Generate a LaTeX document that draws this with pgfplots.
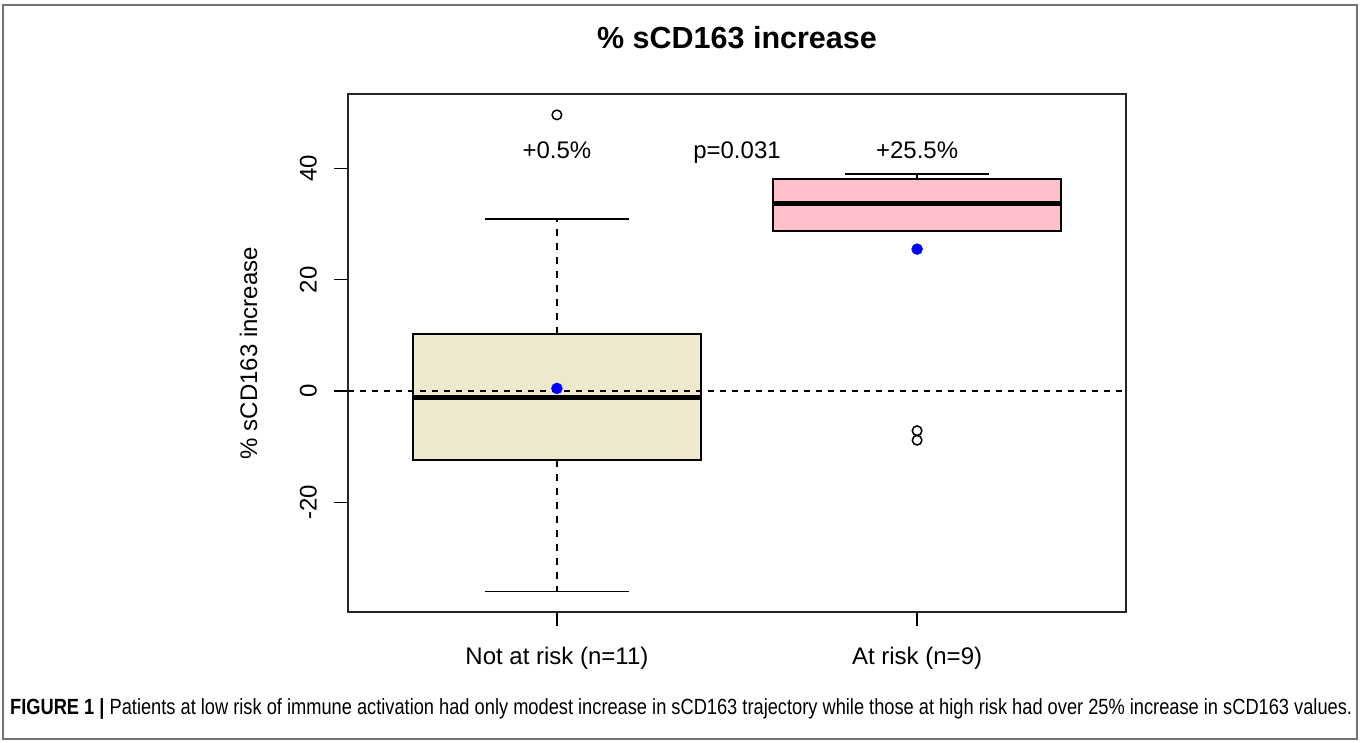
\documentclass[border=0pt]{standalone}
\usepackage{fontspec}
\setmainfont{Liberation Sans}
\usepackage{pgfplots}
\pgfplotsset{compat=1.18}
\definecolor{boxbeige}{HTML}{EEE8CD}
\definecolor{boxpink}{HTML}{FFC0CB}
\begin{document}
\fontsize{24}{29}\selectfont
\begin{tikzpicture}
\path (0pt,0pt) rectangle (1360pt,742pt);
\draw[black!55, line width=1.3pt] (3pt,3pt) rectangle (1357pt,737pt);
\begin{axis}[
  at={(348pt,130pt)}, anchor=south west,
  width=778pt, height=518pt, scale only axis,
  xmin=0.42, xmax=2.58, ymin=-39.64, ymax=53.35,
  xtick={1,2}, xticklabels={Not at risk (n=11), At risk (n=9)},
  ytick={-20,0,20,40}, yticklabels={-20,0,20,40},
  xtick pos=bottom, ytick pos=left,
  tick align=outside, major tick length=14pt,
  tick style={black, line width=1.4pt},
  axis line style={black!85, line width=1.6pt},
  xticklabel style={inner sep=0pt, anchor=north, yshift=-21pt},
  yticklabel style={inner sep=0pt, xshift=-17pt, rotate=90, anchor=south},
  clip=false,
]
% Box 1: Not at risk (n=11)
\addplot[draw=black, fill=boxbeige, line width=1.6pt] coordinates {(0.6,-12.35) (1.4,-12.35) (1.4,10.26) (0.6,10.26)} --cycle;
\addplot[black, line width=5pt] coordinates {(0.6,-1.17) (1.4,-1.17)};
\addplot[black, line width=1.4pt, dash pattern=on 7pt off 7pt] coordinates {(1,10.26) (1,30.9)};
\addplot[black, line width=1.4pt, dash pattern=on 7pt off 7pt] coordinates {(1,-12.35) (1,-36.0)};
\addplot[black, line width=1.4pt] coordinates {(0.8,30.9) (1.2,30.9)};
\addplot[black, line width=1.4pt] coordinates {(0.8,-36.0) (1.2,-36.0)};
% Box 2: At risk (n=9)
\addplot[draw=black, fill=boxpink, line width=1.6pt] coordinates {(1.6,28.8) (2.4,28.8) (2.4,38.1) (1.6,38.1)} --cycle;
\addplot[black, line width=5pt] coordinates {(1.6,33.7) (2.4,33.7)};
\addplot[black, line width=1.4pt] coordinates {(2,38.1) (2,39.0)};
\addplot[black, line width=1.4pt] coordinates {(1.8,39.0) (2.2,39.0)};
% reference line
\addplot[black, line width=1.4pt, dash pattern=on 6pt off 6pt] coordinates {(0.42,0) (2.58,0)};
% means
\addplot[only marks, mark=*, mark size=5.5pt, blue, mark options={draw=blue, fill=blue}]
  coordinates {(1,0.5) (2,25.5)};
% outliers
\addplot[only marks, mark=o, mark size=4.8pt, black, mark options={line width=1.5pt}]
  coordinates {(1,49.6) (2,-7.1) (2,-8.8)};
\node[anchor=base] at (axis cs:1,41.8) {+0.5\%};
\node[anchor=base] at (axis cs:1.5,41.8) {p=0.031};
\node[anchor=base] at (axis cs:2,41.8) {+25.5\%};
\end{axis}
\node[rotate=90, anchor=base] at (257pt,389pt) {\% sCD163 increase};
\node[anchor=base, font=\bfseries\fontsize{30.5}{36}\selectfont] at (737pt,693pt) {\% sCD163 increase};
\node[anchor=base west, inner sep=0pt] at (10pt,28pt) {\resizebox{1342pt}{\height}{\fontsize{22}{26}\selectfont\textbf{FIGURE 1 |} Patients at low risk of immune activation had only modest increase in sCD163 trajectory while those at high risk had over 25\% increase in sCD163 values.}};
\end{tikzpicture}
\end{document}
